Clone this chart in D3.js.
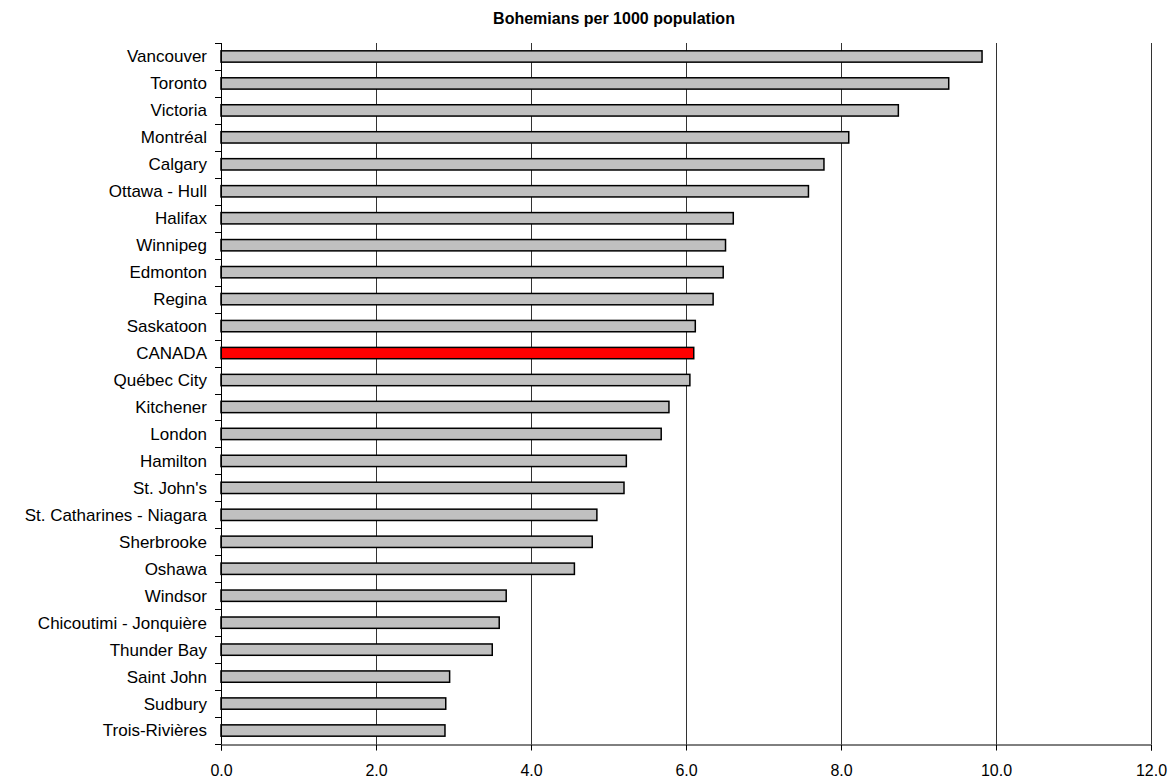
<!DOCTYPE html>
<html><head><meta charset="utf-8">
<script src="https://cdn.jsdelivr.net/npm/d3@7"></script>
<style>body{margin:0;background:#fff;} svg{display:block;font-family:"Liberation Sans",Arial,sans-serif;}</style>
</head><body><svg id="c" width="1176" height="782"></svg>
<script>
const categories = ["Vancouver","Toronto","Victoria","Montréal","Calgary","Ottawa - Hull","Halifax","Winnipeg","Edmonton","Regina","Saskatoon","CANADA","Québec City","Kitchener","London","Hamilton","St. John's","St. Catharines - Niagara","Sherbrooke","Oshawa","Windsor","Chicoutimi - Jonquière","Thunder Bay","Saint John","Sudbury","Trois-Rivières"];
const values = [9.82,9.39,8.74,8.10,7.78,7.58,6.61,6.51,6.48,6.35,6.12,6.10,6.05,5.78,5.68,5.23,5.20,4.85,4.79,4.56,3.68,3.59,3.50,2.95,2.90,2.89];
const xTicks = [0,2,4,6,8,10,12];
const title = "Bohemians per 1000 population";
const highlight = "CANADA";

const svg = d3.select("#c");
const L = 221, R = 1151, T = 43, B = 744;
const x = d3.scaleLinear().domain([0,12]).range([L,R]);
const y = d3.scaleBand().domain(categories).range([T,B]).paddingInner(0.58).paddingOuter(0.29);

svg.append("text").attr("x",614).attr("y",24).attr("text-anchor","middle")
  .style("font-weight","bold").style("font-size","16px").text(title);

// gridlines
svg.append("g").selectAll("line").data(xTicks.slice(1)).join("line")
  .attr("x1",d=>Math.round(x(d))+0.5).attr("x2",d=>Math.round(x(d))+0.5)
  .attr("y1",T).attr("y2",B).attr("stroke","#333").attr("stroke-width",1);

// bars
svg.append("g").selectAll("rect").data(categories).join("rect")
  .attr("x",x(0)).attr("y",d=>y(d))
  .attr("width",(d,i)=>x(values[i])-x(0)).attr("height",y.bandwidth())
  .attr("fill",d=>d===highlight?"#ff0000":"#c0c0c0")
  .attr("stroke","#000").attr("stroke-width",1.5);

// x axis
const xa = svg.append("g").attr("transform",`translate(0,${B+0.5})`)
  .call(d3.axisBottom(x).tickValues(xTicks).tickFormat(d3.format(".1f")).tickSize(6).tickPadding(14));
xa.select(".domain").attr("stroke","#000");
xa.selectAll(".tick line").attr("stroke","#000");
xa.selectAll("text").style("font-size","16px").attr("fill","#000");
xa.selectAll(".tick").attr("transform",d=>`translate(${Math.round(x(d))+0.5},0)`);

// y axis
const step = (B-T)/categories.length;
const ya = svg.append("g");
ya.append("line").attr("x1",L+0.5).attr("x2",L+0.5).attr("y1",T).attr("y2",B).attr("stroke","#000");
ya.selectAll("line.tk").data(d3.range(categories.length+1)).join("line").attr("class","tk")
  .attr("x1",L-6).attr("x2",L+0.5).attr("y1",i=>Math.round(T+i*step)+0.5).attr("y2",i=>Math.round(T+i*step)+0.5)
  .attr("stroke","#000");
ya.selectAll("text").data(categories).join("text")
  .attr("x",207).attr("y",d=>y(d)+y.bandwidth()/2).attr("dy","0.35em")
  .attr("text-anchor","end").style("font-size","17px").text(d=>d);
</script></body></html>
